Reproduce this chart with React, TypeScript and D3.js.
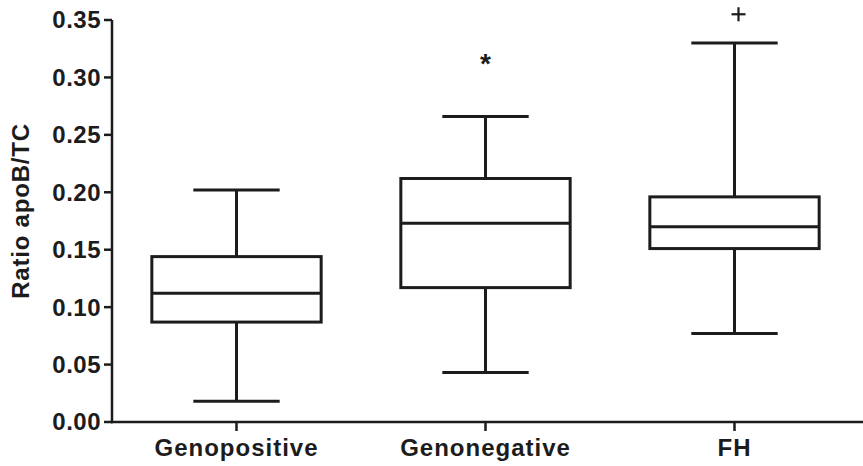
import React from "react";
import * as d3 from "d3";

// Groups and their box-plot summaries (ratio apoB/TC)
const categories = ["Genopositive", "Genonegative", "FH"];
const whiskerHigh = [0.202, 0.266, 0.33];
const upperQuartile = [0.144, 0.212, 0.196];
const medians = [0.112, 0.173, 0.17];
const lowerQuartile = [0.087, 0.117, 0.151];
const whiskerLow = [0.018, 0.043, 0.077];

// Outliers drawn with their own symbols
const outlierGroups = ["Genonegative", "FH"];
const outlierValues = [0.318, 0.355];
const outlierSymbols = ["star", "plus"];

const yTicks = [0, 0.05, 0.1, 0.15, 0.2, 0.25, 0.3, 0.35];

const W = 863;
const H = 466;
const INK = "#1c1c1c";
const FONT = "'Liberation Sans', Arial, Helvetica, sans-serif";

export default function App() {
  const left = 112;
  const right = 859;
  const top = 20;
  const bottom = 422;

  const x = d3.scaleBand<string>().domain(categories).range([left, right]).padding(0);
  const y = d3.scaleLinear().domain([0, 0.35]).range([bottom, top]);
  const fmt = d3.format(".2f");

  const boxW = x.bandwidth() * 0.68;
  const capW = boxW * 0.51;

  return (
    <svg
      width={W}
      height={H}
      style={{ position: "absolute", left: 0, top: 0, background: "#fff" }}
      fontFamily={FONT}
    >
      {/* boxes */}
      {categories.map((c, i) => {
        const cx = x(c)! + x.bandwidth() / 2;
        return (
          <g key={c} stroke={INK} strokeWidth={3} fill="none">
            <line x1={cx} x2={cx} y1={y(whiskerHigh[i])} y2={y(upperQuartile[i])} />
            <line x1={cx} x2={cx} y1={y(lowerQuartile[i])} y2={y(whiskerLow[i])} />
            <line x1={cx - capW / 2} x2={cx + capW / 2} y1={y(whiskerHigh[i])} y2={y(whiskerHigh[i])} />
            <line x1={cx - capW / 2} x2={cx + capW / 2} y1={y(whiskerLow[i])} y2={y(whiskerLow[i])} />
            <rect
              x={cx - boxW / 2}
              y={y(upperQuartile[i])}
              width={boxW}
              height={y(lowerQuartile[i]) - y(upperQuartile[i])}
            />
            <line x1={cx - boxW / 2} x2={cx + boxW / 2} y1={y(medians[i])} y2={y(medians[i])} />
          </g>
        );
      })}

      {/* outliers */}
      {outlierGroups.map((g, i) => {
        const cx = x(g)! + x.bandwidth() / 2;
        const cy = y(outlierValues[i]);
        if (outlierSymbols[i] === "plus") {
          return (
            <g key={g} stroke={INK} strokeWidth={2.2}>
              <line x1={cx - 7 + 4} x2={cx + 7 + 4} y1={cy} y2={cy} />
              <line x1={cx + 4} x2={cx + 4} y1={cy - 7} y2={cy + 7} />
            </g>
          );
        }
        return (
          <text
            key={g}
            x={cx}
            y={cy + 16}
            textAnchor="middle"
            fontSize={28}
            fontWeight="bold"
            fill={INK}
          >
            *
          </text>
        );
      })}

      {/* y axis */}
      <line x1={left} x2={left} y1={top} y2={bottom + 1.2} stroke={INK} strokeWidth={2.5} />
      {yTicks.map((t) => (
        <g key={t}>
          <line x1={left - 8} x2={left} y1={y(t)} y2={y(t)} stroke={INK} strokeWidth={2.5} />
          <text
            x={left - 11}
            y={y(t)}
            dy="0.35em"
            textAnchor="end"
            fontSize={24}
            fontWeight="bold"
            letterSpacing={0.5}
            fill={INK}
          >
            {fmt(t)}
          </text>
        </g>
      ))}
      <text
        transform={`translate(29, 211) rotate(-90)`}
        textAnchor="middle"
        fontSize={24}
        fontWeight="bold"
        letterSpacing={0.8}
        fill={INK}
      >
        Ratio apoB/TC
      </text>

      {/* x axis */}
      <line x1={left - 1.2} x2={right + 4} y1={bottom} y2={bottom} stroke={INK} strokeWidth={2.5} />
      {categories.map((c) => {
        const cx = x(c)! + x.bandwidth() / 2;
        return (
          <g key={c}>
            <line x1={cx} x2={cx} y1={bottom} y2={bottom + 9} stroke={INK} strokeWidth={2.5} />
            <text
              x={cx}
              y={456}
              textAnchor="middle"
              fontSize={24}
              fontWeight="bold"
              letterSpacing={1}
              fill={INK}
            >
              {c}
            </text>
          </g>
        );
      })}
    </svg>
  );
}
